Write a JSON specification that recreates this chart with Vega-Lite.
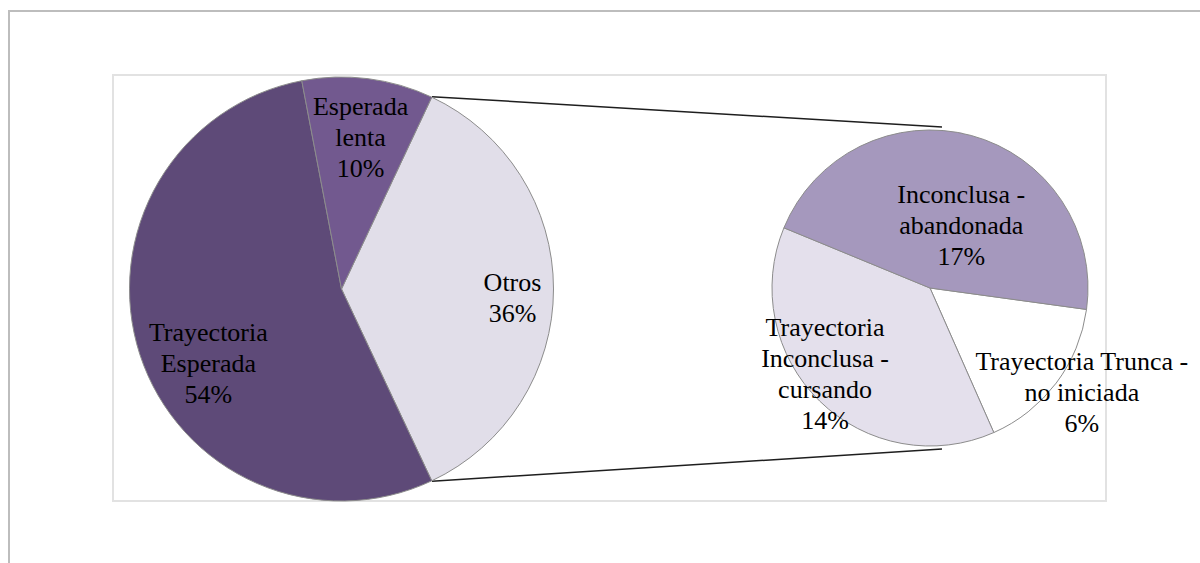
{
  "$schema": "https://vega.github.io/schema/vega-lite/v6.json",
  "autosize": {"type": "none"},
  "padding": {"left": 113, "top": 75, "right": 94, "bottom": 62},
  "width": 993,
  "height": 426,
  "background": "white",
  "config": {"view": {"stroke": "#e2e2e2", "strokeWidth": 2}},
  "data": {
    "values": [
      {"pie": "principal", "cat": "Otros", "valor": 36, "orden": 1},
      {"pie": "principal", "cat": "Trayectoria\nEsperada", "valor": 54, "orden": 2},
      {"pie": "principal", "cat": "Esperada\nlenta", "valor": 10, "orden": 3},
      {"pie": "desglose", "cat": "Trayectoria Trunca -\nno iniciada", "valor": 6, "orden": 1},
      {"pie": "desglose", "cat": "Trayectoria\nInconclusa -\ncursando", "valor": 14, "orden": 2},
      {"pie": "desglose", "cat": "Inconclusa -\nabandonada", "valor": 17, "orden": 3}
    ]
  },
  "layer": [
    {
      "data": {"values": [{}]},
      "mark": {"type": "rect", "filled": false, "stroke": "#bdbdbd", "strokeWidth": 2},
      "encoding": {
        "x": {"datum": -104, "type": "quantitative", "scale": {"domain": [0, 993], "nice": false, "zero": false}, "axis": null},
        "x2": {"datum": 1120},
        "y": {"datum": -64, "type": "quantitative", "scale": {"domain": [0, 426], "nice": false, "zero": false, "reverse": true}, "axis": null},
        "y2": {"datum": 540}
      }
    },
    {
      "data": {"values": [{}]},
      "mark": {"type": "rule", "stroke": "#1e1e1e", "strokeWidth": 1.5},
      "encoding": {
        "x": {"datum": 319, "type": "quantitative", "scale": {"domain": [0, 993], "nice": false, "zero": false}, "axis": null},
        "x2": {"datum": 829},
        "y": {"datum": 21.7, "type": "quantitative", "scale": {"domain": [0, 426], "nice": false, "zero": false, "reverse": true}, "axis": null},
        "y2": {"datum": 52}
      }
    },
    {
      "data": {"values": [{}]},
      "mark": {"type": "rule", "stroke": "#1e1e1e", "strokeWidth": 1.5},
      "encoding": {
        "x": {"datum": 319, "type": "quantitative", "scale": {"domain": [0, 993], "nice": false, "zero": false}, "axis": null},
        "x2": {"datum": 829},
        "y": {"datum": 406.3, "type": "quantitative", "scale": {"domain": [0, 426], "nice": false, "zero": false, "reverse": true}, "axis": null},
        "y2": {"datum": 374}
      }
    },
    {
      "transform": [
        {"filter": "datum.pie === 'principal'"},
        {"calculate": "datum.cat + '\\n' + datum.valor + '%'", "as": "etiqueta"}
      ],
      "encoding": {
        "theta": {"field": "valor", "type": "quantitative", "stack": true, "scale": {"domain": [0, 100], "range": [0.43982, 6.72301]}},
        "order": {"field": "orden", "type": "quantitative"},
        "x": {"datum": 228.5, "type": "quantitative", "scale": {"domain": [0, 993], "nice": false, "zero": false}, "axis": null},
        "y": {"datum": 214, "type": "quantitative", "scale": {"domain": [0, 426], "nice": false, "zero": false, "reverse": true}, "axis": null}
      },
      "layer": [
        {
          "mark": {"type": "arc", "radius": 212, "stroke": "#8c8c8c", "strokeWidth": 1},
          "encoding": {
            "color": {
              "field": "cat", "type": "nominal", "legend": null,
              "scale": {
                "domain": ["Otros", "Trayectoria\nEsperada", "Esperada\nlenta", "Trayectoria Trunca -\nno iniciada", "Trayectoria\nInconclusa -\ncursando", "Inconclusa -\nabandonada"],
                "range": ["#e1dee9", "#5e4a78", "#72598f", "#ffffff", "#e4e0ec", "#a598bd"]
              }
            }
          }
        },
        {
          "mark": {"type": "text", "radius": 171, "dy": -6, "font": "Liberation Serif", "fontSize": 26, "lineBreak": "\n", "lineHeight": 31, "align": "center", "baseline": "middle", "color": "#000000"},
          "encoding": {
            "detail": {"field": "cat", "type": "nominal"},
            "text": {"condition": {"test": "datum.orden === 1", "field": "etiqueta", "type": "nominal"}, "value": ""}
          }
        },
        {
          "mark": {"type": "text", "radius": 140, "dy": 1, "font": "Liberation Serif", "fontSize": 26, "lineBreak": "\n", "lineHeight": 31, "align": "center", "baseline": "middle", "color": "#000000"},
          "encoding": {
            "detail": {"field": "cat", "type": "nominal"},
            "text": {"condition": {"test": "datum.orden === 2", "field": "etiqueta", "type": "nominal"}, "value": ""}
          }
        },
        {
          "mark": {"type": "text", "radius": 152, "dy": -31, "font": "Liberation Serif", "fontSize": 26, "lineBreak": "\n", "lineHeight": 31, "align": "center", "baseline": "middle", "color": "#000000"},
          "encoding": {
            "detail": {"field": "cat", "type": "nominal"},
            "text": {"condition": {"test": "datum.orden === 3", "field": "etiqueta", "type": "nominal"}, "value": ""}
          }
        }
      ]
    },
    {
      "transform": [
        {"filter": "datum.pie === 'desglose'"},
        {"calculate": "datum.cat + '\\n' + datum.valor + '%'", "as": "etiqueta"}
      ],
      "encoding": {
        "theta": {"field": "valor", "type": "quantitative", "stack": true, "scale": {"domain": [0, 37], "range": [1.70693, 7.99012]}},
        "order": {"field": "orden", "type": "quantitative"},
        "x": {"datum": 817, "type": "quantitative", "scale": {"domain": [0, 993], "nice": false, "zero": false}, "axis": null},
        "y": {"datum": 213, "type": "quantitative", "scale": {"domain": [0, 426], "nice": false, "zero": false, "reverse": true}, "axis": null}
      },
      "layer": [
        {
          "mark": {"type": "arc", "radius": 158, "stroke": "#8c8c8c", "strokeWidth": 1},
          "encoding": {
            "color": {
              "field": "cat", "type": "nominal", "legend": null,
              "scale": {
                "domain": ["Otros", "Trayectoria\nEsperada", "Esperada\nlenta", "Trayectoria Trunca -\nno iniciada", "Trayectoria\nInconclusa -\ncursando", "Inconclusa -\nabandonada"],
                "range": ["#e1dee9", "#5e4a78", "#72598f", "#ffffff", "#e4e0ec", "#a598bd"]
              }
            }
          }
        },
        {
          "mark": {"type": "text", "radius": 185, "dx": 4, "dy": -37, "font": "Liberation Serif", "fontSize": 26, "lineBreak": "\n", "lineHeight": 31, "align": "center", "baseline": "middle", "color": "#000000"},
          "encoding": {
            "detail": {"field": "cat", "type": "nominal"},
            "text": {"condition": {"test": "datum.orden === 1", "field": "etiqueta", "type": "nominal"}, "value": ""}
          }
        },
        {
          "mark": {"type": "text", "radius": 136, "dx": -10, "dy": -57, "font": "Liberation Serif", "fontSize": 26, "lineBreak": "\n", "lineHeight": 31, "align": "center", "baseline": "middle", "color": "#000000"},
          "encoding": {
            "detail": {"field": "cat", "type": "nominal"},
            "text": {"condition": {"test": "datum.orden === 2", "field": "etiqueta", "type": "nominal"}, "value": ""}
          }
        },
        {
          "mark": {"type": "text", "radius": 70, "dx": 13, "dy": -25, "font": "Liberation Serif", "fontSize": 26, "lineBreak": "\n", "lineHeight": 31, "align": "center", "baseline": "middle", "color": "#000000"},
          "encoding": {
            "detail": {"field": "cat", "type": "nominal"},
            "text": {"condition": {"test": "datum.orden === 3", "field": "etiqueta", "type": "nominal"}, "value": ""}
          }
        }
      ]
    }
  ],
  "resolve": {"scale": {"theta": "independent"}}
}
